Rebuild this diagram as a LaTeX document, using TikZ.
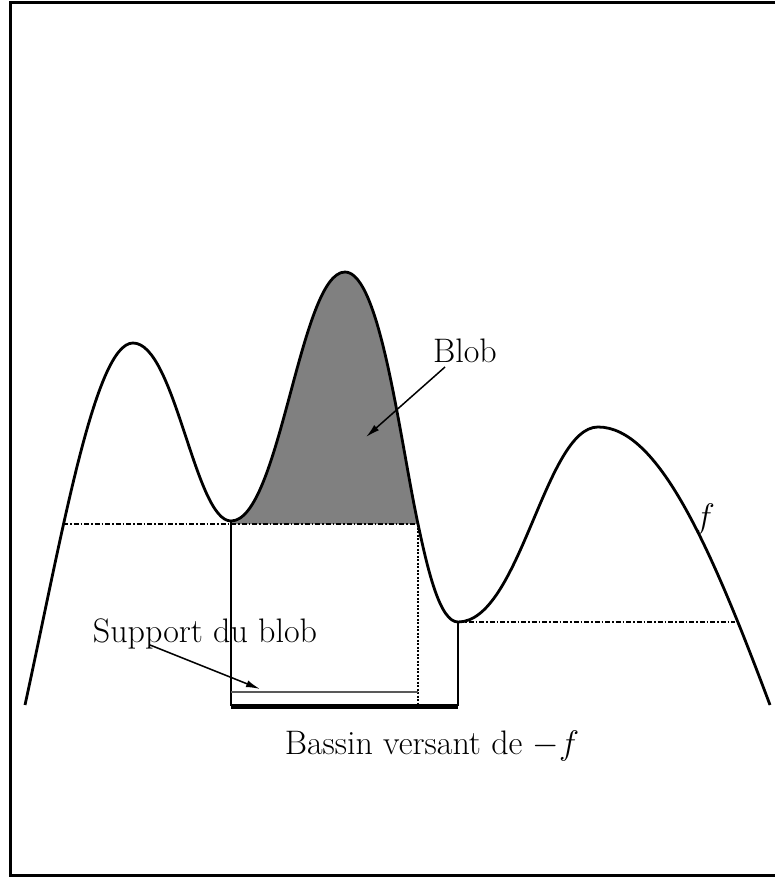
\RequirePackage{fix-cm}
\documentclass[tikz,border=0pt]{standalone}
\usetikzlibrary{arrows.meta}
\begin{document}
\begin{tikzpicture}[x=1pt,y=-1pt,
  curve/.style={line width=2.8pt},
  dashdot/.style={line width=2.3pt,dash pattern=on 5pt off 2pt on 1.5pt off 2pt},
  dotline/.style={line width=2.5pt,dash pattern=on 2pt off 1.5pt},
  vline/.style={line width=2.8pt},
  lbl/.style={font=\fontsize{34}{40}\selectfont,inner sep=0pt,anchor=base},
  pointer/.style={line width=1.5pt,-{Latex[length=14pt,width=7pt]}}]
\useasboundingbox (0,0) rectangle (775,877);
% frame
\draw[line width=3pt] (790,3) -- (10,3) -- (10,875) -- (790,875);
% blob fill
\fill[gray] (231,521) .. controls (280,521) and (300,272) .. (345,272)
  .. controls (380,272) and (400,440) .. (418,524) -- (231,524) -- cycle;
% dashed levels
\coordinate (l1) at (63,524);
\coordinate (r1) at (418,524);
\coordinate (l2) at (458,622);
\coordinate (r2) at (735,622);
\draw[dashdot] (l1) -- (r1);
\draw[dashdot] (l2) -- (r2);
% verticals and base
\coordinate (m1) at (231,521);
\coordinate (b1) at (231,706);
\coordinate (b2) at (458,706);
\coordinate (d1) at (418,706);
\coordinate (g1) at (231,692);
\coordinate (g2) at (418,692);
\draw[vline] (m1) -- (b1);
\draw[vline] (l2) -- (b2);
\draw[dotline] (r1) -- (d1);
\draw[line width=1.3pt,gray!70!black] (g1) -- (g2);
\draw[line width=5pt] (b1) -- (b2);
% curve f
\draw[curve,line join=round] (25,705) .. controls (62,535) and (95,343) .. (133,343)
  .. controls (175,343) and (195,521) .. (231,521)
  .. controls (280,521) and (300,272) .. (345,272)
  .. controls (380,272) and (400,440) .. (418,524)
  .. controls (428,571) and (440,622) .. (458,622)
  .. controls (520,622) and (545,427) .. (598,427)
  .. controls (658,427) and (710,545) .. (770,705);
% labels
\node[lbl] (blob) at (465,362) {Blob};
\node[lbl] (support) at (205,642) {Support du blob};
\node[lbl] (bassin) at (432,754) {Bassin versant de $-f$};
\node[lbl] (f) at (705,527) {$f$};
\coordinate (blobtip) at (366,437);
\coordinate (blobstart) at (445,367);
\coordinate (suptip) at (260,689);
\coordinate (supstart) at (150,645);
\draw[pointer] (blobstart) -- (blobtip);
\draw[pointer] (supstart) -- (suptip);
\end{tikzpicture}
\end{document}
